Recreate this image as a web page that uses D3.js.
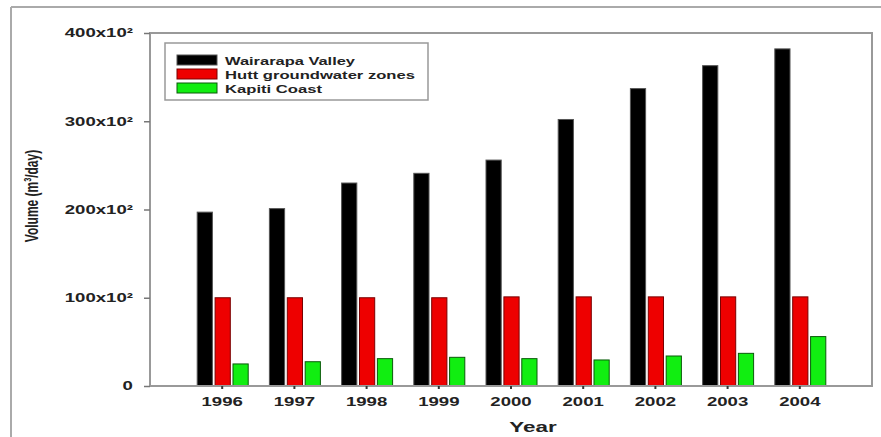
<!DOCTYPE html>
<html>
<head>
<meta charset="utf-8">
<script src="https://cdn.jsdelivr.net/npm/d3@7"></script>
<style>
  html, body { margin: 0; padding: 0; background: #fff; }
  svg { display: block; }
  text { font-family: "Liberation Sans", Arial, sans-serif; fill: #222; }
</style>
</head>
<body>
<svg id="chart" width="881" height="437"></svg>
<script>
// Groundwater volume by year and zone
const years = ["1996", "1997", "1998", "1999", "2000", "2001", "2002", "2003", "2004"];
const seriesNames = ["Wairarapa Valley", "Hutt groundwater zones", "Kapiti Coast"];
const wairarapa = [197, 201, 230, 241, 256, 302, 337, 363, 382];
const hutt = [100, 100, 100, 100, 101, 101, 101, 101, 101];
const kapiti = [25, 27.5, 31, 32.5, 31, 29.5, 34, 37, 56];
const yTicks = [0, 100, 200, 300, 400];
const yTickLabels = ["0", "100x10²", "200x10²", "300x10²", "400x10²"];

const fills = ["#000000", "#ee0000", "#11ee11"];
const strokes = ["#555555", "#7a0000", "#0a5a0a"];
const textColor = "#333";
// text in this figure is set wide: horizontal stretch factor
const wide = 1.55;
// rendered widths of the legend labels
const legendTextWidths = [130, 190, 97];

const table = years.map((yr, i) => ({
  year: yr,
  values: [wairarapa[i], hutt[i], kapiti[i]]
}));

const svg = d3.select("#chart");
const plotLeft = 150, plotRight = 872, plotTop = 33, plotBottom = 386;

// outer frame (top and left edges)
svg.append("line").attr("x1", 11).attr("x2", 881).attr("y1", 7).attr("y2", 7)
  .attr("stroke", "#aaa").attr("stroke-width", 2);
svg.append("line").attr("x1", 11).attr("x2", 11).attr("y1", 7).attr("y2", 437)
  .attr("stroke", "#aaa").attr("stroke-width", 2);

const x = d3.scaleBand().domain(years).range([plotLeft, plotRight]).paddingInner(0).paddingOuter(0.5);
const xs = d3.scaleBand().domain(d3.range(3)).range([-25, 26]).paddingInner(0.15);
const y = d3.scaleLinear().domain([0, 400]).range([plotBottom, plotTop]);

// bars
const groups = svg.append("g").selectAll("g").data(table).join("g")
  .attr("transform", d => `translate(${x(d.year) + x.bandwidth() / 2},0)`);
groups.selectAll("rect").data(d => d.values.map((v, k) => ({ v, k }))).join("rect")
  .attr("x", d => xs(d.k))
  .attr("width", xs.bandwidth())
  .attr("y", d => y(d.v))
  .attr("height", d => y(0) - y(d.v))
  .attr("fill", d => fills[d.k])
  .attr("stroke", d => strokes[d.k])
  .attr("stroke-width", 1);

// plot frame
svg.append("rect").attr("x", plotLeft).attr("y", plotTop)
  .attr("width", plotRight - plotLeft).attr("height", plotBottom - plotTop)
  .attr("fill", "none").attr("stroke", "#999").attr("stroke-width", 2);

// y axis
const yAxis = d3.axisLeft(y).tickValues(yTicks)
  .tickFormat((d, i) => yTickLabels[i]).tickSize(6).tickPadding(5);
const gy = svg.append("g").attr("transform", `translate(${plotLeft},0)`).call(yAxis);
gy.select(".domain").remove();
gy.selectAll(".tick line").attr("stroke", "#777").attr("stroke-width", 1.5);
gy.selectAll(".tick text").attr("font-size", 12).attr("font-weight", "bold")
  .attr("fill", textColor).attr("transform", `scale(${wide},1)`)
  .style("font-family", "'Liberation Sans', Arial, sans-serif");

// x axis
const xAxis = d3.axisBottom(x).tickSize(3).tickPadding(8);
const gx = svg.append("g").attr("transform", `translate(0,${plotBottom})`).call(xAxis);
gx.select(".domain").remove();
gx.selectAll(".tick line").attr("stroke", "#333").attr("stroke-width", 2);
gx.selectAll(".tick text").attr("font-size", 12).attr("font-weight", "bold")
  .attr("fill", textColor).attr("transform", `scale(${wide},1)`)
  .style("font-family", "'Liberation Sans', Arial, sans-serif");

// axis titles
svg.append("text").attr("transform", `translate(533,432) scale(1.6,1)`)
  .attr("text-anchor", "middle")
  .attr("font-size", 14).attr("font-weight", "bold").attr("fill", textColor).text("Year");
svg.append("text")
  .attr("transform", "translate(38,196) scale(1.6,1) rotate(-90)")
  .attr("text-anchor", "middle").attr("font-size", 12).attr("font-weight", "bold").attr("fill", textColor)
  .text("Volume (m³/day)");

// legend
const lg = svg.append("g").attr("transform", "translate(165,43)");
lg.append("rect").attr("width", 263).attr("height", 57)
  .attr("fill", "#fff").attr("stroke", "#999").attr("stroke-width", 1.5);
const items = lg.selectAll("g").data(seriesNames).join("g")
  .attr("transform", (d, i) => `translate(12,${17 + i * 14})`);
items.append("rect").attr("x", 0).attr("y", -5).attr("width", 40).attr("height", 10)
  .attr("fill", (d, i) => fills[i]).attr("stroke", (d, i) => strokes[i]);
items.append("text").attr("x", 48).attr("y", 4.5)
  .attr("textLength", (d, i) => legendTextWidths[i])
  .attr("lengthAdjust", "spacingAndGlyphs")
  .attr("font-size", 11.5).attr("font-weight", "bold").attr("fill", textColor).text(d => d);
</script>
</body>
</html>
